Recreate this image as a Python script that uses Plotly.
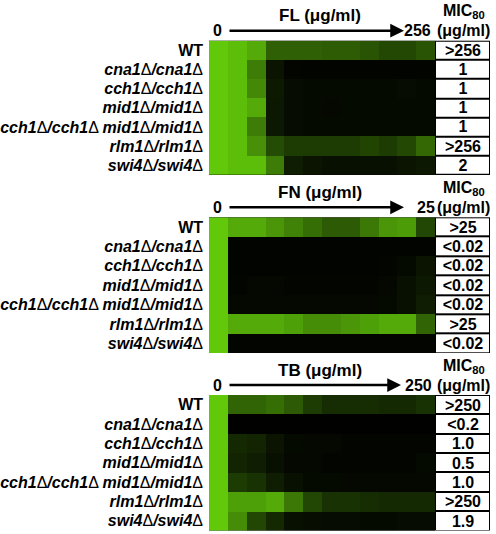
import plotly.graph_objects as go

W, H = 496, 534
GREEN = "rgb(98,200,10)"
FONT = "Liberation Sans, Arial, sans-serif"

strains = ["WT", "cna1", "cch1", "mid1", "cch1 mid1", "rlm1", "swi4"]

# relative growth per well (0 = none, 1 = full), 12 concentrations, low -> high
fl_growth = [
    [1.0, 0.95, 0.85, 0.48, 0.48, 0.48, 0.46, 0.46, 0.42, 0.36, 0.36, 0.42],
    [1.0, 0.95, 0.62, 0.10, 0.03, 0.02, 0.02, 0.02, 0.02, 0.02, 0.02, 0.02],
    [1.0, 0.95, 0.68, 0.13, 0.06, 0.05, 0.05, 0.05, 0.05, 0.05, 0.06, 0.05],
    [1.0, 0.95, 0.85, 0.12, 0.06, 0.05, 0.04, 0.05, 0.05, 0.05, 0.05, 0.05],
    [1.0, 0.95, 0.62, 0.12, 0.06, 0.05, 0.05, 0.05, 0.05, 0.05, 0.05, 0.05],
    [1.0, 0.95, 0.72, 0.38, 0.30, 0.30, 0.30, 0.30, 0.34, 0.30, 0.36, 0.52],
    [1.0, 0.95, 0.95, 0.62, 0.15, 0.10, 0.08, 0.08, 0.08, 0.08, 0.10, 0.12],
]
fn_growth = [
    [1.0, 0.85, 0.85, 0.75, 0.65, 0.55, 0.45, 0.45, 0.60, 0.75, 0.78, 0.35],
    [1.0, 0.02, 0.02, 0.02, 0.02, 0.02, 0.02, 0.02, 0.02, 0.02, 0.02, 0.02],
    [1.0, 0.02, 0.02, 0.02, 0.02, 0.02, 0.02, 0.02, 0.02, 0.03, 0.05, 0.10],
    [1.0, 0.03, 0.04, 0.04, 0.03, 0.03, 0.03, 0.03, 0.03, 0.04, 0.08, 0.12],
    [1.0, 0.04, 0.04, 0.04, 0.04, 0.04, 0.04, 0.04, 0.04, 0.05, 0.08, 0.15],
    [1.0, 0.85, 0.85, 0.85, 0.80, 0.70, 0.70, 0.75, 0.80, 0.85, 0.85, 0.50],
    [1.0, 0.03, 0.03, 0.03, 0.03, 0.03, 0.03, 0.03, 0.03, 0.03, 0.03, 0.03],
]
tb_growth = [
    [1.0, 0.50, 0.50, 0.55, 0.45, 0.30, 0.22, 0.22, 0.22, 0.20, 0.20, 0.25],
    [1.0, 0.01, 0.01, 0.01, 0.01, 0.01, 0.01, 0.01, 0.01, 0.01, 0.01, 0.01],
    [1.0, 0.20, 0.18, 0.10, 0.05, 0.04, 0.04, 0.03, 0.03, 0.03, 0.03, 0.03],
    [1.0, 0.18, 0.15, 0.08, 0.04, 0.04, 0.03, 0.03, 0.03, 0.03, 0.03, 0.05],
    [1.0, 0.30, 0.25, 0.15, 0.08, 0.05, 0.05, 0.04, 0.04, 0.04, 0.04, 0.04],
    [1.0, 0.80, 0.80, 0.85, 0.60, 0.35, 0.25, 0.25, 0.22, 0.20, 0.20, 0.20],
    [1.0, 0.70, 0.35, 0.20, 0.08, 0.07, 0.06, 0.06, 0.05, 0.05, 0.06, 0.06],
]

fl_mic = [">256", "1", "1", "1", "1", ">256", "2"]
fn_mic = [">25", "<0.02", "<0.02", "<0.02", "<0.02", ">25", "<0.02"]
tb_mic = [">250", "<0.2", "1.0", "0.5", "1.0", ">250", "1.9"]

drugs = ["FL", "FN", "TB"]
max_conc = ["256", "25", "250"]


def strain_label(s):
    if s == "WT":
        return "<b>WT</b>"
    parts = []
    for g in s.split(" "):
        parts.append(f"<b><i>{g}</i></b>Δ<b><i>/{g}</i></b>Δ")
    return " ".join(parts)


def py(p):
    return 1 - p / H


def px_x(p):
    return p / W


panels = [
    (fl_growth, fl_mic, 40.7, 175.0),
    (fn_growth, fn_mic, 217.3, 353.0),
    (tb_growth, tb_mic, 395.0, 530.5),
]
arrow_end = [404, 404, 401]
max_x = [417, 426, 418]

fig = go.Figure()
layout = {}
annotations = []

for i, (growth, mic, top, bot) in enumerate(panels):
    xh, xt, yk = f"x{2 * i + 1}", f"x{2 * i + 2}", f"y{i + 1}"
    xh_name = "xaxis" if i == 0 else f"xaxis{2 * i + 1}"
    xt_name = f"xaxis{2 * i + 2}"
    y_name = "yaxis" if i == 0 else f"yaxis{i + 1}"
    fig.add_trace(go.Heatmap(
        z=growth, x=list(range(12)), y=list(range(len(strains))),
        colorscale=[[0, "#000000"], [1, GREEN]], zmin=0, zmax=1,
        showscale=False, hoverinfo="skip", xaxis=xh, yaxis=yk,
    ))
    fig.add_trace(go.Heatmap(
        z=[[0] for _ in mic], x=[0], y=list(range(len(strains))),
        text=[[m] for m in mic], texttemplate="<b>%{text}</b>",
        textfont=dict(family=FONT, size=16, color="black"),
        colorscale=[[0, "white"], [1, "white"]], showscale=False,
        xgap=2, ygap=2, hoverinfo="skip", xaxis=xt, yaxis=yk,
    ))
    layout[xh_name] = dict(domain=[px_x(209), px_x(435)], anchor=yk,
                           range=[-0.5, 11.5], showticklabels=False,
                           showgrid=False, zeroline=False, ticks="")
    layout[xt_name] = dict(domain=[px_x(435), px_x(490)], anchor=yk,
                           range=[-0.5, 0.5], showticklabels=False,
                           showgrid=False, zeroline=False, ticks="")
    layout[y_name] = dict(domain=[py(bot), py(top)], anchor=xh,
                          range=[6.5, -0.5], tickmode="array",
                          tickvals=list(range(len(strains))),
                          ticktext=[strain_label(s) for s in strains],
                          tickfont=dict(family=FONT, size=16, color="black"),
                          showgrid=False, zeroline=False, ticks="",
                          ticklabelstandoff=5)

    ay = py(top - 10)
    annotations += [
        dict(x=px_x(320), y=py(top - 25), text=f"<b>{drugs[i]} (μg/ml)</b>",
             font=dict(size=17)),
        dict(x=px_x(217), y=ay, text="<b>0</b>", font=dict(size=16)),
        dict(x=px_x(max_x[i]), y=ay, text=f"<b>{max_conc[i]}</b>",
             font=dict(size=16)),
        dict(x=px_x(464), y=py(top - 29), text="<b>MIC<sub>80</sub></b>",
             font=dict(size=16)),
        dict(x=px_x(463), y=ay, text="<b>(μg/ml)</b>", font=dict(size=16)),
        dict(x=px_x(arrow_end[i]), y=ay, ax=228 - arrow_end[i], ay=0,
             text="", showarrow=True, arrowhead=2, arrowsize=1.1,
             arrowwidth=2.5, arrowcolor="black", axref="pixel", ayref="pixel"),
    ]

for a in annotations:
    a.setdefault("showarrow", False)
    a.update(xref="paper", yref="paper")
    if a["text"]:
        a.update(xanchor="center", yanchor="middle")
        a["font"].update(family=FONT, color="black")

fig.update_layout(
    width=W, height=H, margin=dict(l=0, r=0, t=0, b=0),
    paper_bgcolor="white", plot_bgcolor="black",
    annotations=annotations, **layout,
)

fig.write_html("out.html", config={"displayModeBar": False},
               post_script="document.body.style.margin='0px';")
